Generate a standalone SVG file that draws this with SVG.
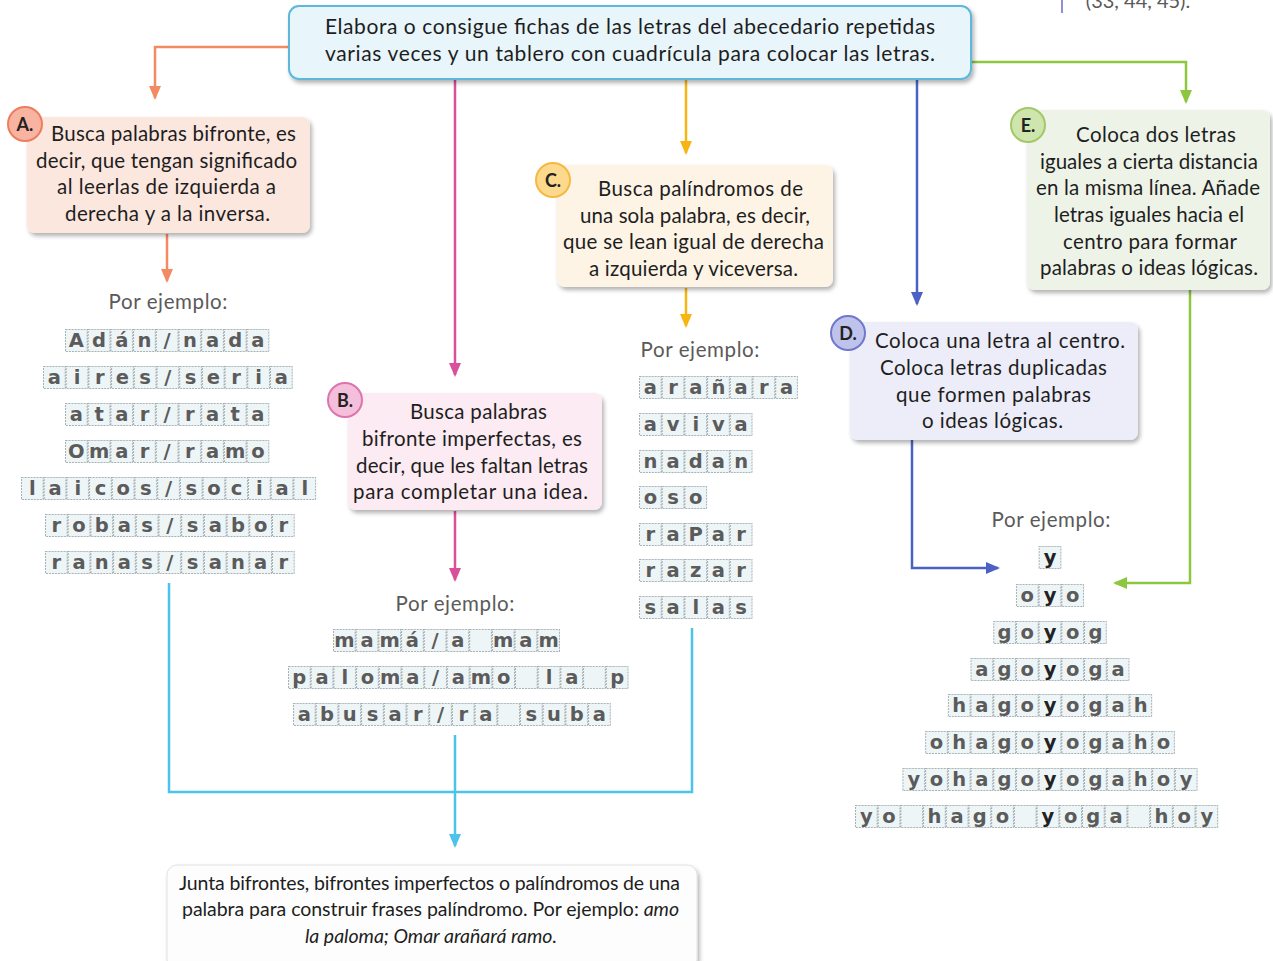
<svg xmlns="http://www.w3.org/2000/svg" width="1273" height="961" viewBox="0 0 1273 961">
<style>
.t{font-family:Lato,"Open Sans","Liberation Sans",sans-serif;font-size:20.5px;fill:#1e1e1e;text-anchor:middle}
.ej{fill:#5a5a5a}
.L{font-family:"DejaVu Sans","Liberation Sans",sans-serif;font-weight:bold;font-size:19.5px;fill:#5b5b5b;text-anchor:middle}
.Y{fill:#222}
.row{fill:url(#grid)}
.ln{fill:none;stroke-width:2.5}
.box{filter:url(#sh)}
.bd{stroke-width:2}
.bt{font-family:Lato,"Open Sans",sans-serif;font-size:18px;font-weight:bold;fill:#222;text-anchor:middle}
</style>
<defs>
<filter id="sh" x="-10%" y="-10%" width="125%" height="130%">
<feDropShadow dx="2" dy="3" stdDeviation="2" flood-color="#000" flood-opacity="0.3"/>
</filter>
<pattern id="grid" width="22.7" height="23" patternUnits="userSpaceOnUse">
<rect x="0.5" y="0.5" width="21.7" height="22" fill="#eef5f7" stroke="#a7b1b5" stroke-width="1" stroke-dasharray="2 1"/>
</pattern>
<marker id="mO" viewBox="0 0 14 12" refX="12" refY="6" markerWidth="14" markerHeight="12" markerUnits="userSpaceOnUse" orient="auto"><path d="M0,0L14,6L0,12z" fill="#f28a62"/></marker>
<marker id="mM" viewBox="0 0 14 12" refX="12" refY="6" markerWidth="14" markerHeight="12" markerUnits="userSpaceOnUse" orient="auto"><path d="M0,0L14,6L0,12z" fill="#d9509a"/></marker>
<marker id="mY" viewBox="0 0 14 12" refX="12" refY="6" markerWidth="14" markerHeight="12" markerUnits="userSpaceOnUse" orient="auto"><path d="M0,0L14,6L0,12z" fill="#f7b512"/></marker>
<marker id="mB" viewBox="0 0 14 12" refX="12" refY="6" markerWidth="14" markerHeight="12" markerUnits="userSpaceOnUse" orient="auto"><path d="M0,0L14,6L0,12z" fill="#4b62c4"/></marker>
<marker id="mG" viewBox="0 0 14 12" refX="12" refY="6" markerWidth="14" markerHeight="12" markerUnits="userSpaceOnUse" orient="auto"><path d="M0,0L14,6L0,12z" fill="#8dc63f"/></marker>
<marker id="mC" viewBox="0 0 14 12" refX="12" refY="6" markerWidth="14" markerHeight="12" markerUnits="userSpaceOnUse" orient="auto"><path d="M0,0L14,6L0,12z" fill="#4cc3ea"/></marker>
</defs>
<rect width="1273" height="961" fill="#ffffff"/>

<g id="corner">
<line x1="1062" y1="0" x2="1062" y2="13" stroke="#8f8fd8" stroke-width="2"/>
<text class="t ej" x="1138" y="8" style="font-size:20px">(33, 44, 45).</text>
</g>

<g id="connectors">
<path class="ln" stroke="#f28a62" d="M289,47H155V98" marker-end="url(#mO)"/>
<path class="ln" stroke="#f28a62" d="M167,234V281" marker-end="url(#mO)"/>
<path class="ln" stroke="#d9509a" d="M455,79V375" marker-end="url(#mM)"/>
<path class="ln" stroke="#d9509a" d="M455,511V580" marker-end="url(#mM)"/>
<path class="ln" stroke="#f7b512" d="M686,79V153" marker-end="url(#mY)"/>
<path class="ln" stroke="#f7b512" d="M686,288V326" marker-end="url(#mY)"/>
<path class="ln" stroke="#4b62c4" d="M917,79V304" marker-end="url(#mB)"/>
<path class="ln" stroke="#4b62c4" d="M912,440V568H998" marker-end="url(#mB)"/>
<path class="ln" stroke="#8dc63f" d="M971,62H1186V102" marker-end="url(#mG)"/>
<path class="ln" stroke="#8dc63f" d="M1190,290V583H1115" marker-end="url(#mG)"/>
<path class="ln" stroke="#4cc3ea" d="M169,583V792H692V628"/>
<path class="ln" stroke="#4cc3ea" d="M455,735V846" marker-end="url(#mC)"/>
</g>

<g id="top">
<rect class="box" x="289" y="6" width="682" height="73" rx="10" fill="#e8f5fb" stroke="#5db8dc" stroke-width="2"/>
<text class="t" x="630" y="34" textLength="610" style="font-size:21px">Elabora o consigue fichas de las letras del abecedario repetidas</text>
<text class="t" x="630" y="61" textLength="610" style="font-size:21px">varias veces y un tablero con cuadrícula para colocar las letras.</text>
</g>

<g id="nodeA">
<rect class="box" x="27" y="117" width="283" height="116" rx="8" fill="#fce7df"/>
<circle class="bd" cx="25" cy="124" r="17" fill="#f8b4a0" stroke="#ee7c5e"/>
<text class="bt" x="25" y="131">A.</text>
<text class="t" x="173.5" y="141" textLength="245">Busca palabras bifronte, es</text>
<text class="t" x="166.5" y="168" textLength="261">decir, que tengan significado</text>
<text class="t" x="166.5" y="194" textLength="219">al leerlas de izquierda a</text>
<text class="t" x="167.5" y="221" textLength="205">derecha y a la inversa.</text>
</g>

<g id="nodeB">
<rect class="box" x="348" y="393" width="254" height="117" rx="8" fill="#fcebf2"/>
<circle class="bd" cx="345" cy="400" r="17" fill="#f4bfdb" stroke="#df74ad"/>
<text class="bt" x="345" y="407">B.</text>
<text class="t" x="478.5" y="419" textLength="137">Busca palabras</text>
<text class="t" x="472" y="446" textLength="220">bifronte imperfectas, es</text>
<text class="t" x="472" y="473" textLength="232">decir, que les faltan letras</text>
<text class="t" x="470.5" y="499" textLength="235">para completar una idea.</text>
</g>

<g id="nodeC">
<rect class="box" x="557" y="165" width="276" height="122" rx="8" fill="#fdf4e6"/>
<circle class="bd" cx="553" cy="180" r="17" fill="#fcd98d" stroke="#f5b940"/>
<text class="bt" x="553" y="187">C.</text>
<text class="t" x="700.5" y="196" textLength="205">Busca palíndromos de</text>
<text class="t" x="695" y="223" textLength="230">una sola palabra, es decir,</text>
<text class="t" x="693.5" y="249" textLength="261">que se lean igual de derecha</text>
<text class="t" x="693.5" y="276" textLength="209">a izquierda y viceversa.</text>
</g>

<g id="nodeD">
<rect class="box" x="850" y="322" width="288" height="118" rx="8" fill="#ecedf8"/>
<circle class="bd" cx="848" cy="333" r="17" fill="#bfc3ec" stroke="#6f78cc"/>
<text class="bt" x="848" y="340">D.</text>
<text class="t" x="1000" y="348" textLength="250">Coloca una letra al centro.</text>
<text class="t" x="993.5" y="375" textLength="227">Coloca letras duplicadas</text>
<text class="t" x="993.5" y="402" textLength="195">que formen palabras</text>
<text class="t" x="992.5" y="428" textLength="141">o ideas lógicas.</text>
</g>

<g id="nodeE">
<rect class="box" x="1027" y="110" width="243" height="180" rx="8" fill="#eef3e8"/>
<circle class="bd" cx="1028" cy="125" r="17" fill="#cfe5ae" stroke="#a3c866"/>
<text class="bt" x="1028" y="132">E.</text>
<text class="t" x="1156" y="142" textLength="160">Coloca dos letras</text>
<text class="t" x="1149" y="169" textLength="218">iguales a cierta distancia</text>
<text class="t" x="1148" y="195" textLength="224">en la misma línea. Añade</text>
<text class="t" x="1149" y="222" textLength="190">letras iguales hacia el</text>
<text class="t" x="1150" y="249" textLength="174">centro para formar</text>
<text class="t" x="1149" y="275" textLength="218">palabras o ideas lógicas.</text>
</g>

<g id="nodeFinal">
<rect class="box" x="167" y="865" width="530" height="104" rx="10" fill="#fdfdfd" stroke="#e2e2e2" stroke-width="1"/>
<text class="t" x="429.5" y="890" textLength="501" style="font-size:19.5px">Junta bifrontes, bifrontes imperfectos o palíndromos de una</text>
<text class="t" x="430.5" y="916" textLength="497" style="font-size:19.5px">palabra para construir frases palíndromo. Por ejemplo: <tspan font-style="italic">amo</tspan></text>
<text class="t" x="431" y="943" textLength="252" style="font-size:19.5px;font-style:italic">la paloma; Omar arañará ramo.</text>
</g>

<g id="exA">
<text class="t ej" x="168" y="309" textLength="119">Por ejemplo:</text>
<g transform="translate(65,329)"><rect class="row" width="204.3" height="23"/><text class="L" x="11.35 34.05 56.75 79.45 102.15 124.85 147.55 170.25 192.95" y="18">Adán/nada</text></g>
<g transform="translate(43,366)"><rect class="row" width="249.7" height="23"/><text class="L" x="11.35 34.05 56.75 79.45 102.15 124.85 147.55 170.25 192.95 215.65 238.35" y="18">aires/seria</text></g>
<g transform="translate(65,403)"><rect class="row" width="204.3" height="23"/><text class="L" x="11.35 34.05 56.75 79.45 102.15 124.85 147.55 170.25 192.95" y="18">atar/rata</text></g>
<g transform="translate(65,440)"><rect class="row" width="204.3" height="23"/><text class="L" x="11.35 34.05 56.75 79.45 102.15 124.85 147.55 170.25 192.95" y="18">Omar/ramo</text></g>
<g transform="translate(21,477)"><rect class="row" width="295.1" height="23"/><text class="L" x="11.35 34.05 56.75 79.45 102.15 124.85 147.55 170.25 192.95 215.65 238.35 261.05 283.75" y="18">laicos/social</text></g>
<g transform="translate(45,514)"><rect class="row" width="249.7" height="23"/><text class="L" x="11.35 34.05 56.75 79.45 102.15 124.85 147.55 170.25 192.95 215.65 238.35" y="18">robas/sabor</text></g>
<g transform="translate(45,551)"><rect class="row" width="249.7" height="23"/><text class="L" x="11.35 34.05 56.75 79.45 102.15 124.85 147.55 170.25 192.95 215.65 238.35" y="18">ranas/sanar</text></g>
</g>

<g id="exB">
<text class="t ej" x="455" y="611" textLength="119">Por ejemplo:</text>
<g transform="translate(333,629)"><rect class="row" width="227" height="23"/><text class="L" x="11.35 34.05 56.75 79.45 102.15 124.85 147.55 170.25 192.95 215.65" y="18">mamá/a mam</text></g>
<g transform="translate(288,666)"><rect class="row" width="340.5" height="23"/><text class="L" x="11.35 34.05 56.75 79.45 102.15 124.85 147.55 170.25 192.95 215.65 238.35 261.05 283.75 306.45 329.15" y="18">paloma/amo la p</text></g>
<g transform="translate(293,703)"><rect class="row" width="317.8" height="23"/><text class="L" x="11.35 34.05 56.75 79.45 102.15 124.85 147.55 170.25 192.95 215.65 238.35 261.05 283.75 306.45" y="18">abusar/ra suba</text></g>
</g>

<g id="exC">
<text class="t ej" x="700" y="357" textLength="119">Por ejemplo:</text>
<g transform="translate(639,376)"><rect class="row" width="158.9" height="23"/><text class="L" x="11.35 34.05 56.75 79.45 102.15 124.85 147.55" y="18">arañara</text></g>
<g transform="translate(639,413)"><rect class="row" width="113.5" height="23"/><text class="L" x="11.35 34.05 56.75 79.45 102.15" y="18">aviva</text></g>
<g transform="translate(639,450)"><rect class="row" width="113.5" height="23"/><text class="L" x="11.35 34.05 56.75 79.45 102.15" y="18">nadan</text></g>
<g transform="translate(639,486)"><rect class="row" width="68.1" height="23"/><text class="L" x="11.35 34.05 56.75" y="18">oso</text></g>
<g transform="translate(639,523)"><rect class="row" width="113.5" height="23"/><text class="L" x="11.35 34.05 56.75 79.45 102.15" y="18">raPar</text></g>
<g transform="translate(639,559)"><rect class="row" width="113.5" height="23"/><text class="L" x="11.35 34.05 56.75 79.45 102.15" y="18">razar</text></g>
<g transform="translate(639,596)"><rect class="row" width="113.5" height="23"/><text class="L" x="11.35 34.05 56.75 79.45 102.15" y="18">salas</text></g>
</g>

<g id="exD">
<text class="t ej" x="1051" y="527" textLength="119">Por ejemplo:</text>
<g transform="translate(1038.65,546)"><rect class="row" width="22.7" height="23"/><text class="L Y" x="11.35" y="18">y</text></g>
<g transform="translate(1015.95,584)"><rect class="row" width="68.1" height="23"/><text class="L" x="11.35 34.05 56.75" y="18">o<tspan class="Y">y</tspan>o</text></g>
<g transform="translate(993.25,621)"><rect class="row" width="113.5" height="23"/><text class="L" x="11.35 34.05 56.75 79.45 102.15" y="18">go<tspan class="Y">y</tspan>og</text></g>
<g transform="translate(970.55,658)"><rect class="row" width="158.9" height="23"/><text class="L" x="11.35 34.05 56.75 79.45 102.15 124.85 147.55" y="18">ago<tspan class="Y">y</tspan>oga</text></g>
<g transform="translate(947.85,694)"><rect class="row" width="204.3" height="23"/><text class="L" x="11.35 34.05 56.75 79.45 102.15 124.85 147.55 170.25 192.95" y="18">hago<tspan class="Y">y</tspan>ogah</text></g>
<g transform="translate(925.15,731)"><rect class="row" width="249.7" height="23"/><text class="L" x="11.35 34.05 56.75 79.45 102.15 124.85 147.55 170.25 192.95 215.65 238.35" y="18">ohago<tspan class="Y">y</tspan>ogaho</text></g>
<g transform="translate(902.45,768)"><rect class="row" width="295.1" height="23"/><text class="L" x="11.35 34.05 56.75 79.45 102.15 124.85 147.55 170.25 192.95 215.65 238.35 261.05 283.75" y="18">yohago<tspan class="Y">y</tspan>ogahoy</text></g>
<g transform="translate(855,805)"><rect class="row" width="363.2" height="23"/><text class="L" x="11.35 34.05 56.75 79.45 102.15 124.85 147.55 170.25 192.95 215.65 238.35 261.05 283.75 306.45 329.15 351.85" y="18">yo hago <tspan class="Y">y</tspan>oga hoy</text></g>
</g>
</svg>
